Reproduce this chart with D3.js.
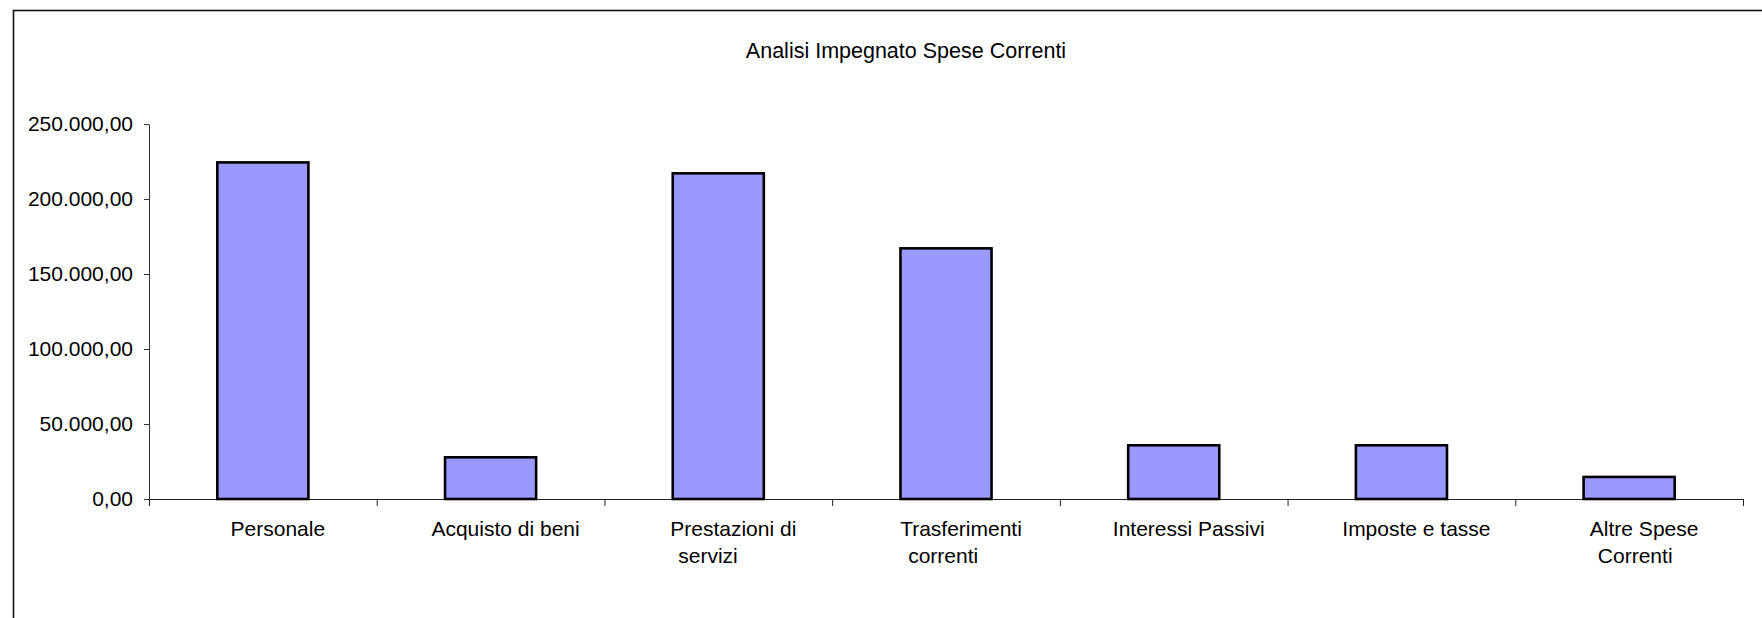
<!DOCTYPE html>
<html>
<head>
<meta charset="utf-8">
<script src="https://cdn.jsdelivr.net/npm/d3@7"></script>
<style>
  body { margin: 0; background: #fff; }
  svg { display: block; font-family: "Liberation Sans", Arial, sans-serif; }
</style>
</head>
<body>
<svg id="chart" width="1762" height="618"></svg>
<script>
const title = "Analisi Impegnato Spese Correnti";
const categories = ["Personale", "Acquisto di beni", "Prestazioni di servizi", "Trasferimenti correnti",
                    "Interessi Passivi", "Imposte e tasse", "Altre Spese Correnti"];
// wrapped the way the original labels break
const labelLines = [["Personale"], ["Acquisto di beni"], ["Prestazioni di", "servizi"], ["Trasferimenti", "correnti"],
                    ["Interessi Passivi"], ["Imposte e tasse"], ["Altre Spese", "Correnti"]];
const values = [224400, 27800, 217100, 167100, 35800, 35800, 14700];
const yTicks = [0, 50000, 100000, 150000, 200000, 250000];

const svg = d3.select("#chart");
const plot = { left: 149, right: 1743, top: 124, bottom: 499 };

// italian number format: 250.000,00
const itLocale = d3.formatLocale({ decimal: ",", thousands: ".", grouping: [3], currency: ["", ""] });
const fmt = itLocale.format(",.2f");

// chart area border (right/bottom run off the picture)
svg.append("rect")
   .attr("x", 13.5).attr("y", 10.5)
   .attr("width", 1800).attr("height", 700)
   .attr("fill", "none")
   .attr("stroke", "#111")
   .attr("stroke-width", 1.6);

svg.append("text")
   .attr("x", 906).attr("y", 58)
   .attr("text-anchor", "middle")
   .style("font-size", "21.5px")
   .attr("fill", "#000")
   .text(title);

const x = d3.scaleBand()
            .domain(categories)
            .range([plot.left, plot.right])
            .paddingInner(0.6)
            .paddingOuter(0.3);

const y = d3.scaleLinear()
            .domain([0, 250000])
            .range([plot.bottom, plot.top]);

// category boundaries for the x ticks
const boundary = d3.scaleLinear().domain([0, categories.length]).range([plot.left, plot.right]);

const yAxis = d3.axisLeft(y)
                .tickValues(yTicks)
                .tickFormat(fmt)
                .tickSize(5)
                .tickSizeOuter(0)
                .tickPadding(11);

svg.append("g")
   .attr("class", "y axis")
   .attr("transform", `translate(${plot.left},0)`)
   .call(yAxis)
   .call(g => g.selectAll("line, path").attr("stroke", "#333"))
   .call(g => g.selectAll("text")
               .style("font-size", "21px")
               .style("font-family", "Liberation Sans, Arial, sans-serif")
               .attr("fill", "#000"));

const xAxis = d3.axisBottom(boundary)
                .tickValues(d3.range(categories.length + 1))
                .tickFormat("")
                .tickSize(7)
                .tickSizeOuter(0);

svg.append("g")
   .attr("class", "x axis")
   .attr("transform", `translate(0,${plot.bottom})`)
   .call(xAxis)
   .call(g => g.selectAll("line, path").attr("stroke", "#222"));

svg.selectAll(".bar")
   .data(values)
   .enter()
   .append("rect")
   .attr("class", "bar")
   .attr("x", (d, i) => x(categories[i]))
   .attr("y", (d) => y(d))
   .attr("width", x.bandwidth())
   .attr("height", (d) => y(0) - y(d))
   .attr("fill", "#9999ff")
   .attr("stroke", "#000")
   .attr("stroke-width", 2.6);

// category labels: first line sits a bit right of centre, the wrapped
// second line starts just inside the first one, as in the original
const labels = svg.selectAll(".cat-label")
                  .data(labelLines)
                  .enter()
                  .append("text")
                  .attr("class", "cat-label")
                  .style("font-size", "21px")
                  .attr("fill", "#000");

labels.each(function(lines, i) {
  let cx = x(categories[i]) + x.bandwidth() / 2;
  let t = d3.select(this);
  let first = t.append("tspan")
               .attr("y", 536)
               .text(lines[0]);
  let w = first.node().getComputedTextLength();
  let startX = cx + 15 - w / 2;
  first.attr("x", startX);
  lines.slice(1).forEach((line, j) => {
    t.append("tspan")
     .attr("x", startX + 8)
     .attr("y", 536 + (j + 1) * 27)
     .text(line);
  });
});
</script>
</body>
</html>
